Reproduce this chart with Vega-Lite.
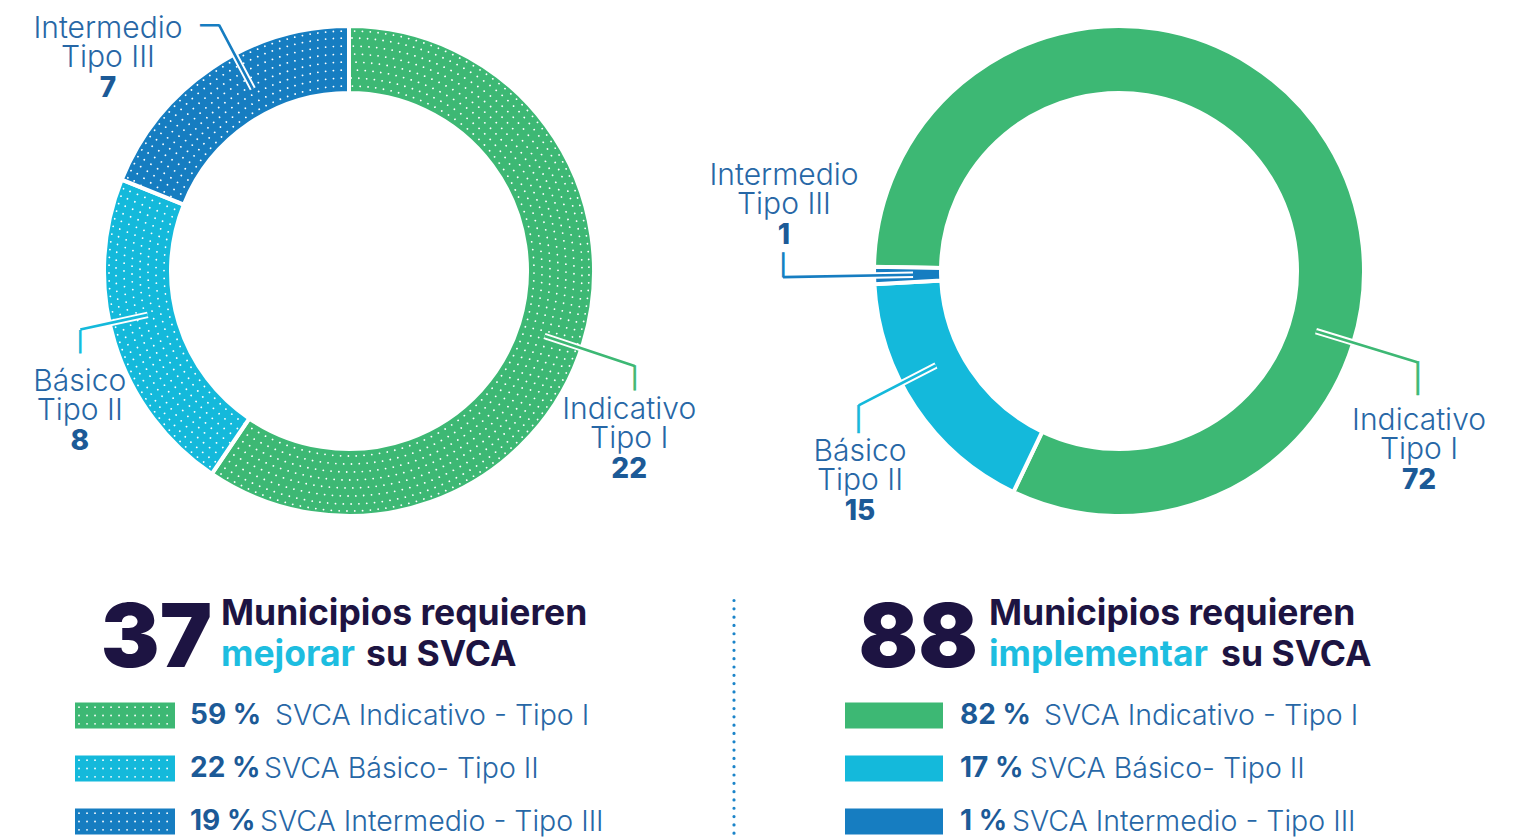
{
  "$schema": "https://vega.github.io/schema/vega-lite/v6.json",
  "padding": 0,
  "background": "#ffffff",
  "spacing": 54.5,
  "config": {"view": {"stroke": null}},
  "vconcat": [
    {
      "hconcat": [
        {
          "width": 698,
          "height": 542,
          "data": {"values": [
            {"tipo": "Indicativo", "etiqueta": "Indicativo\nTipo I", "n": 22, "orden": 1},
            {"tipo": "Básico", "etiqueta": "Básico\nTipo II", "n": 8, "orden": 2},
            {"tipo": "Intermedio", "etiqueta": "Intermedio\nTipo III", "n": 7, "orden": 3}
          ]},
          "layer": [
            {"mark": {"type": "arc", "innerRadius": 178, "outerRadius": 245, "stroke": "#ffffff", "strokeWidth": 4},
             "encoding": {
               "theta": {"field": "n", "type": "quantitative", "stack": true},
               "order": {"field": "orden", "type": "quantitative"},
               "color": {"field": "tipo", "type": "nominal", "scale": {"domain": ["Indicativo", "Básico", "Intermedio"], "range": ["#3db874", "#14b9db", "#167dc1"]}, "legend": null}}},
            {"encoding": {"theta": {"field": "n", "type": "quantitative", "stack": true}, "order": {"field": "orden", "type": "quantitative"}},
             "layer": [
               {"mark": {"type": "arc", "innerRadius": 0, "outerRadius": 185, "filled": false, "stroke": "#ffffff", "strokeWidth": 1.8, "strokeCap": "round", "strokeDash": [0.01, 7.8]}},
               {"mark": {"type": "arc", "innerRadius": 0, "outerRadius": 193, "filled": false, "stroke": "#ffffff", "strokeWidth": 1.8, "strokeCap": "round", "strokeDash": [0.01, 7.8]}},
               {"mark": {"type": "arc", "innerRadius": 0, "outerRadius": 201, "filled": false, "stroke": "#ffffff", "strokeWidth": 1.8, "strokeCap": "round", "strokeDash": [0.01, 7.8]}},
               {"mark": {"type": "arc", "innerRadius": 0, "outerRadius": 209, "filled": false, "stroke": "#ffffff", "strokeWidth": 1.8, "strokeCap": "round", "strokeDash": [0.01, 7.8]}},
               {"mark": {"type": "arc", "innerRadius": 0, "outerRadius": 217, "filled": false, "stroke": "#ffffff", "strokeWidth": 1.8, "strokeCap": "round", "strokeDash": [0.01, 7.8]}},
               {"mark": {"type": "arc", "innerRadius": 0, "outerRadius": 225, "filled": false, "stroke": "#ffffff", "strokeWidth": 1.8, "strokeCap": "round", "strokeDash": [0.01, 7.8]}},
               {"mark": {"type": "arc", "innerRadius": 0, "outerRadius": 233, "filled": false, "stroke": "#ffffff", "strokeWidth": 1.8, "strokeCap": "round", "strokeDash": [0.01, 7.8]}},
               {"mark": {"type": "arc", "innerRadius": 0, "outerRadius": 240, "filled": false, "stroke": "#ffffff", "strokeWidth": 1.8, "strokeCap": "round", "strokeDash": [0.01, 7.8]}}
             ]},

            {"transform": [{"stack": "n", "groupby": [], "sort": [{"field": "orden", "order": "ascending"}], "as": ["t0", "t1"]}, {"filter": "datum.tipo === 'Indicativo'"}],
             "encoding": {"theta": {"field": "t0", "type": "quantitative", "stack": null}},
             "layer": [
               {"mark": {"type": "arc", "innerRadius": 206, "outerRadius": 301, "thetaOffset": 1.892, "theta2Offset": 1.892, "filled": false, "stroke": "#ffffff", "strokeWidth": 6.5, "strokeCap": "round"}, "encoding": {"theta2": {"field": "t0"}}},
               {"mark": {"type": "arc", "innerRadius": 206, "outerRadius": 301, "thetaOffset": 1.892, "theta2Offset": 1.892, "filled": false, "stroke": "#3db874", "strokeWidth": 2.6, "strokeCap": "round"}, "encoding": {"theta2": {"field": "t0"}}},
               {"mark": {"type": "text", "radius": 211.5, "align": "center", "baseline": "alphabetic", "font": "DejaVu Sans Mono", "fontSize": 20.6, "color": "#3db874", "stroke": "#3db874", "strokeWidth": 0.9, "dx": 285.6, "dy": 325.6, "text": "│"}},
               {"mark": {"type": "text", "radius": 211.5, "align": "center", "baseline": "alphabetic", "lineBreak": "\n", "lineHeight": 29.5, "font": "Inter", "fontWeight": 300, "fontSize": 30, "color": "#2767a6", "dx": 280.2, "dy": 359.0}, "encoding": {"text": {"field": "etiqueta", "type": "nominal"}}},
               {"mark": {"type": "text", "radius": 211.5, "align": "center", "baseline": "alphabetic", "font": "Inter", "fontWeight": 800, "fontSize": 28, "color": "#1c5a97", "dx": 280.2, "dy": 418.0}, "encoding": {"text": {"field": "n", "type": "quantitative"}}}
             ]},
            {"transform": [{"stack": "n", "groupby": [], "sort": [{"field": "orden", "order": "ascending"}], "as": ["t0", "t1"]}, {"filter": "datum.tipo === 'Básico'"}],
             "encoding": {"theta": {"field": "t0", "type": "quantitative", "stack": null}},
             "layer": [
               {"mark": {"type": "arc", "innerRadius": 206, "outerRadius": 275, "thetaOffset": 0.7618, "theta2Offset": 0.7618, "filled": false, "stroke": "#ffffff", "strokeWidth": 6.5, "strokeCap": "round"}, "encoding": {"theta2": {"field": "t0"}}},
               {"mark": {"type": "arc", "innerRadius": 206, "outerRadius": 275, "thetaOffset": 0.7618, "theta2Offset": 0.7618, "filled": false, "stroke": "#14b9db", "strokeWidth": 2.6, "strokeCap": "round"}, "encoding": {"theta2": {"field": "t0"}}},
               {"mark": {"type": "text", "radius": 211.5, "align": "center", "baseline": "alphabetic", "font": "DejaVu Sans Mono", "fontSize": 18.9, "color": "#14b9db", "stroke": "#14b9db", "strokeWidth": 0.9, "dx": -150.3, "dy": -98.7, "text": "│"}},
               {"mark": {"type": "text", "radius": 211.5, "align": "center", "baseline": "alphabetic", "lineBreak": "\n", "lineHeight": 29.5, "font": "Inter", "fontWeight": 300, "fontSize": 30, "color": "#2767a6", "dx": -150.8, "dy": -55.7}, "encoding": {"text": {"field": "etiqueta", "type": "nominal"}}},
               {"mark": {"type": "text", "radius": 211.5, "align": "center", "baseline": "alphabetic", "font": "Inter", "fontWeight": 800, "fontSize": 28, "color": "#1c5a97", "dx": -150.8, "dy": 3.3}, "encoding": {"text": {"field": "n", "type": "quantitative"}}}
             ]},
            {"transform": [{"stack": "n", "groupby": [], "sort": [{"field": "orden", "order": "ascending"}], "as": ["t0", "t1"]}, {"filter": "datum.tipo === 'Intermedio'"}],
             "encoding": {"theta": {"field": "t0", "type": "quantitative", "stack": null}},
             "layer": [
               {"mark": {"type": "arc", "innerRadius": 206, "outerRadius": 278, "thetaOffset": 0.7027, "theta2Offset": 0.7027, "filled": false, "stroke": "#ffffff", "strokeWidth": 6.5, "strokeCap": "round"}, "encoding": {"theta2": {"field": "t0"}}},
               {"mark": {"type": "arc", "innerRadius": 206, "outerRadius": 278, "thetaOffset": 0.7027, "theta2Offset": 0.7027, "filled": false, "stroke": "#167dc1", "strokeWidth": 2.6, "strokeCap": "round"}, "encoding": {"theta2": {"field": "t0"}}},
               {"mark": {"type": "text", "radius": 211.5, "align": "right", "baseline": "alphabetic", "font": "DejaVu Sans Mono", "fontSize": 31.6, "color": "#167dc1", "dx": 66.3, "dy": -156.6, "text": "─"}},
               {"mark": {"type": "text", "radius": 211.5, "align": "center", "baseline": "alphabetic", "lineBreak": "\n", "lineHeight": 29.5, "font": "Inter", "fontWeight": 300, "fontSize": 30, "color": "#2767a6", "dx": -44.8, "dy": -154.2}, "encoding": {"text": {"field": "etiqueta", "type": "nominal"}}},
               {"mark": {"type": "text", "radius": 211.5, "align": "center", "baseline": "alphabetic", "font": "Inter", "fontWeight": 800, "fontSize": 28, "color": "#1c5a97", "dx": -44.8, "dy": -95.2}, "encoding": {"text": {"field": "n", "type": "quantitative"}}}
             ]}
          ]
        },
        {
          "width": 698,
          "height": 542,
          "data": {"values": [
            {"tipo": "Indicativo", "etiqueta": "Indicativo\nTipo I", "n": 72, "orden": 1},
            {"tipo": "Básico", "etiqueta": "Básico\nTipo II", "n": 15, "orden": 2},
            {"tipo": "Intermedio", "etiqueta": "Intermedio\nTipo III", "n": 1, "orden": 3}
          ]},
          "layer": [
            {"mark": {"type": "arc", "innerRadius": 178, "outerRadius": 245, "stroke": "#ffffff", "strokeWidth": 4},
             "encoding": {
               "theta": {"field": "n", "type": "quantitative", "stack": true, "scale": {"range": [4.7298, 11.0130]}},
               "order": {"field": "orden", "type": "quantitative"},
               "color": {"field": "tipo", "type": "nominal", "scale": {"domain": ["Indicativo", "Básico", "Intermedio"], "range": ["#3db874", "#14b9db", "#167dc1"]}, "legend": null}}},

            {"transform": [{"stack": "n", "groupby": [], "sort": [{"field": "orden", "order": "ascending"}], "as": ["t0", "t1"]}, {"filter": "datum.tipo === 'Indicativo'"}],
             "encoding": {"theta": {"field": "t0", "type": "quantitative", "stack": null}},
             "layer": [
               {"mark": {"type": "arc", "innerRadius": 206, "outerRadius": 312, "thetaOffset": 3.4208, "theta2Offset": 3.4208, "filled": false, "stroke": "#ffffff", "strokeWidth": 6.5, "strokeCap": "round"}, "encoding": {"theta2": {"field": "t0"}}},
               {"mark": {"type": "arc", "innerRadius": 206, "outerRadius": 312, "thetaOffset": 3.4208, "theta2Offset": 3.4208, "filled": false, "stroke": "#3db874", "strokeWidth": 2.6, "strokeCap": "round"}, "encoding": {"theta2": {"field": "t0"}}},
               {"mark": {"type": "text", "radius": 211.5, "align": "center", "baseline": "alphabetic", "font": "DejaVu Sans Mono", "fontSize": 28.4, "color": "#3db874", "stroke": "#3db874", "strokeWidth": 0.5, "dx": 509.9, "dy": 121.0, "text": "│"}},
               {"mark": {"type": "text", "radius": 211.5, "align": "center", "baseline": "alphabetic", "lineBreak": "\n", "lineHeight": 29.5, "font": "Inter", "fontWeight": 300, "fontSize": 30, "color": "#2767a6", "dx": 511.5, "dy": 162.2}, "encoding": {"text": {"field": "etiqueta", "type": "nominal"}}},
               {"mark": {"type": "text", "radius": 211.5, "align": "center", "baseline": "alphabetic", "font": "Inter", "fontWeight": 800, "fontSize": 28, "color": "#1c5a97", "dx": 511.5, "dy": 221.2}, "encoding": {"text": {"field": "n", "type": "quantitative"}}}
             ]},
            {"transform": [{"stack": "n", "groupby": [], "sort": [{"field": "orden", "order": "ascending"}], "as": ["t0", "t1"]}, {"filter": "datum.tipo === 'Básico'"}],
             "encoding": {"theta": {"field": "t0", "type": "quantitative", "stack": null}},
             "layer": [
               {"mark": {"type": "arc", "innerRadius": 206, "outerRadius": 293, "thetaOffset": 0.6484, "theta2Offset": 0.6484, "filled": false, "stroke": "#ffffff", "strokeWidth": 6.5, "strokeCap": "round"}, "encoding": {"theta2": {"field": "t0"}}},
               {"mark": {"type": "arc", "innerRadius": 206, "outerRadius": 293, "thetaOffset": 0.6484, "theta2Offset": 0.6484, "filled": false, "stroke": "#14b9db", "strokeWidth": 2.6, "strokeCap": "round"}, "encoding": {"theta2": {"field": "t0"}}},
               {"mark": {"type": "text", "radius": 211.5, "align": "center", "baseline": "alphabetic", "font": "DejaVu Sans Mono", "fontSize": 23.2, "color": "#14b9db", "stroke": "#14b9db", "strokeWidth": 0.8, "dx": -169.2, "dy": -35.3, "text": "│"}},
               {"mark": {"type": "text", "radius": 211.5, "align": "center", "baseline": "alphabetic", "lineBreak": "\n", "lineHeight": 29.5, "font": "Inter", "fontWeight": 300, "fontSize": 30, "color": "#2767a6", "dx": -167.8, "dy": -1.3}, "encoding": {"text": {"field": "etiqueta", "type": "nominal"}}},
               {"mark": {"type": "text", "radius": 211.5, "align": "center", "baseline": "alphabetic", "font": "Inter", "fontWeight": 800, "fontSize": 28, "color": "#1c5a97", "dx": -167.8, "dy": 57.7}, "encoding": {"text": {"field": "n", "type": "quantitative"}}}
             ]},
            {"transform": [{"stack": "n", "groupby": [], "sort": [{"field": "orden", "order": "ascending"}], "as": ["t0", "t1"]}, {"filter": "datum.tipo === 'Intermedio'"}],
             "encoding": {"theta": {"field": "t0", "type": "quantitative", "stack": null}},
             "layer": [
               {"mark": {"type": "arc", "innerRadius": 206, "outerRadius": 336, "thetaOffset": 0.0356, "theta2Offset": 0.0356, "filled": false, "stroke": "#ffffff", "strokeWidth": 6.5, "strokeCap": "round"}, "encoding": {"theta2": {"field": "t0"}}},
               {"mark": {"type": "arc", "innerRadius": 206, "outerRadius": 336, "thetaOffset": 0.0356, "theta2Offset": 0.0356, "filled": false, "stroke": "#167dc1", "strokeWidth": 2.6, "strokeCap": "round"}, "encoding": {"theta2": {"field": "t0"}}},
               {"mark": {"type": "text", "radius": 211.5, "align": "center", "baseline": "alphabetic", "font": "DejaVu Sans Mono", "fontSize": 20.6, "color": "#167dc1", "stroke": "#167dc1", "strokeWidth": 0.9, "dx": -124.7, "dy": -10.3, "text": "│"}},
               {"mark": {"type": "text", "radius": 211.5, "align": "center", "baseline": "alphabetic", "lineBreak": "\n", "lineHeight": 29.5, "font": "Inter", "fontWeight": 300, "fontSize": 30, "color": "#2767a6", "dx": -123.8, "dy": -97.9}, "encoding": {"text": {"field": "etiqueta", "type": "nominal"}}},
               {"mark": {"type": "text", "radius": 211.5, "align": "center", "baseline": "alphabetic", "font": "Inter", "fontWeight": 800, "fontSize": 28, "color": "#1c5a97", "dx": -123.8, "dy": -38.9}, "encoding": {"text": {"field": "n", "type": "quantitative"}}}
             ]}
          ]
        }
      ],
      "spacing": 72,
      "bounds": "flush",
      "resolve": {"scale": {"theta": "independent"}}
    },
    {
      "hconcat": [
        {
          "width": 734,
          "height": 240,
          "data": {"values": [
            {"tipo": "Indicativo", "pct": "59 %", "nombre": "SVCA Indicativo - Tipo I"},
            {"tipo": "Básico", "pct": "22 %", "nombre": "SVCA Básico- Tipo II"},
            {"tipo": "Intermedio", "pct": "19 %", "nombre": "SVCA Intermedio - Tipo III"}
          ]},
          "layer": [
            {"data": {"values": [{"separador": "linea"}]},
             "mark": {"type": "rule", "color": "#1b84c9", "strokeWidth": 3.2, "strokeCap": "round", "strokeDash": [0.01, 8.3]},
             "encoding": {"x": {"value": "width"}, "y": {"value": 2}, "y2": {"value": "height"}}},
            {"data": {"values": [{"total": 37, "linea1": "Municipios requieren", "verbo": "mejorar", "linea2": "su SVCA"}]},
             "layer": [
               {"mark": {"type": "text", "align": "right", "baseline": "alphabetic", "font": "Inter", "fontWeight": 900, "fontSize": 88, "color": "#1d1442"},
                "encoding": {"text": {"field": "total", "type": "quantitative"}, "x": {"value": 212}, "y": {"value": 68}}},
               {"mark": {"type": "text", "align": "left", "baseline": "alphabetic", "font": "Inter", "fontWeight": 700, "fontSize": 35.5, "color": "#1d1442"},
                "encoding": {"text": {"field": "linea1", "type": "nominal"}, "x": {"value": 221}, "y": {"value": 26}}},
               {"mark": {"type": "text", "align": "left", "baseline": "alphabetic", "font": "Inter", "fontWeight": 700, "fontSize": 35.5, "color": "#1dbde0"},
                "encoding": {"text": {"field": "verbo", "type": "nominal"}, "x": {"value": 221}, "y": {"value": 67}}},
               {"mark": {"type": "text", "align": "left", "baseline": "alphabetic", "font": "Inter", "fontWeight": 700, "fontSize": 35.5, "color": "#1d1442"},
                "encoding": {"text": {"field": "linea2", "type": "nominal"}, "x": {"value": 366}, "y": {"value": 67}}}
             ]},
            {"mark": {"type": "bar"},
             "encoding": {
               "y": {"field": "tipo", "type": "nominal", "scale": {"domain": ["Indicativo", "Básico", "Intermedio"], "range": [90.5, 249.5], "paddingInner": 0.51, "paddingOuter": 0.255}, "axis": null},
               "x": {"value": 75}, "x2": {"value": 175},
               "color": {"field": "tipo", "type": "nominal", "scale": {"domain": ["Indicativo", "Básico", "Intermedio"], "range": ["#3db874", "#14b9db", "#167dc1"]}, "legend": null}}},
            {"mark": {"type": "rule", "stroke": "#ffffff", "strokeWidth": 1.8, "strokeCap": "round", "strokeDash": [0.01, 8]},
             "encoding": {"y": {"field": "tipo", "type": "nominal", "bandPosition": 0.18}, "x": {"value": 79}, "x2": {"value": 173}}},
            {"mark": {"type": "rule", "stroke": "#ffffff", "strokeWidth": 1.8, "strokeCap": "round", "strokeDash": [0.01, 8]},
             "encoding": {"y": {"field": "tipo", "type": "nominal", "bandPosition": 0.5}, "x": {"value": 79}, "x2": {"value": 173}}},
            {"mark": {"type": "rule", "stroke": "#ffffff", "strokeWidth": 1.8, "strokeCap": "round", "strokeDash": [0.01, 8]},
             "encoding": {"y": {"field": "tipo", "type": "nominal", "bandPosition": 0.82}, "x": {"value": 79}, "x2": {"value": 173}}},
            {"mark": {"type": "text", "align": "left", "baseline": "middle", "font": "Inter", "fontWeight": 700, "fontSize": 28, "color": "#1c5a97"},
             "encoding": {"y": {"field": "tipo", "type": "nominal"}, "x": {"value": 190}, "text": {"field": "pct", "type": "nominal"}}},
            {"transform": [{"filter": "datum.tipo === 'Indicativo'"}],
             "mark": {"type": "text", "align": "left", "baseline": "middle", "font": "Inter", "fontWeight": 300, "fontSize": 28.5, "color": "#2767a6"},
             "encoding": {"y": {"field": "tipo", "type": "nominal"}, "x": {"value": 275}, "text": {"field": "nombre", "type": "nominal"}}},
            {"transform": [{"filter": "datum.tipo === 'Básico'"}],
             "mark": {"type": "text", "align": "left", "baseline": "middle", "font": "Inter", "fontWeight": 300, "fontSize": 28.5, "color": "#2767a6"},
             "encoding": {"y": {"field": "tipo", "type": "nominal"}, "x": {"value": 264}, "text": {"field": "nombre", "type": "nominal"}}},
            {"transform": [{"filter": "datum.tipo === 'Intermedio'"}],
             "mark": {"type": "text", "align": "left", "baseline": "middle", "font": "Inter", "fontWeight": 300, "fontSize": 28.5, "color": "#2767a6"},
             "encoding": {"y": {"field": "tipo", "type": "nominal"}, "x": {"value": 260}, "text": {"field": "nombre", "type": "nominal"}}}
          ]
        },
        {
          "width": 698,
          "height": 240,
          "data": {"values": [
            {"tipo": "Indicativo", "pct": "82 %", "nombre": "SVCA Indicativo - Tipo I"},
            {"tipo": "Básico", "pct": "17 %", "nombre": "SVCA Básico- Tipo II"},
            {"tipo": "Intermedio", "pct": "1 %", "nombre": "SVCA Intermedio - Tipo III"}
          ]},
          "layer": [
            {"data": {"values": [{"total": 88, "linea1": "Municipios requieren", "verbo": "implementar", "linea2": "su SVCA"}]},
             "layer": [
               {"mark": {"type": "text", "align": "right", "baseline": "alphabetic", "font": "Inter", "fontWeight": 900, "fontSize": 88, "color": "#1d1442"},
                "encoding": {"text": {"field": "total", "type": "quantitative"}, "x": {"value": 208}, "y": {"value": 68}}},
               {"mark": {"type": "text", "align": "left", "baseline": "alphabetic", "font": "Inter", "fontWeight": 700, "fontSize": 35.5, "color": "#1d1442"},
                "encoding": {"text": {"field": "linea1", "type": "nominal"}, "x": {"value": 219}, "y": {"value": 26}}},
               {"mark": {"type": "text", "align": "left", "baseline": "alphabetic", "font": "Inter", "fontWeight": 700, "fontSize": 35.5, "color": "#1dbde0"},
                "encoding": {"text": {"field": "verbo", "type": "nominal"}, "x": {"value": 219}, "y": {"value": 67}}},
               {"mark": {"type": "text", "align": "left", "baseline": "alphabetic", "font": "Inter", "fontWeight": 700, "fontSize": 35.5, "color": "#1d1442"},
                "encoding": {"text": {"field": "linea2", "type": "nominal"}, "x": {"value": 451}, "y": {"value": 67}}}
             ]},
            {"mark": {"type": "bar"},
             "encoding": {
               "y": {"field": "tipo", "type": "nominal", "scale": {"domain": ["Indicativo", "Básico", "Intermedio"], "range": [90.5, 249.5], "paddingInner": 0.51, "paddingOuter": 0.255}, "axis": null},
               "x": {"value": 75}, "x2": {"value": 173},
               "color": {"field": "tipo", "type": "nominal", "scale": {"domain": ["Indicativo", "Básico", "Intermedio"], "range": ["#3db874", "#14b9db", "#167dc1"]}, "legend": null}}},
            {"mark": {"type": "text", "align": "left", "baseline": "middle", "font": "Inter", "fontWeight": 700, "fontSize": 28, "color": "#1c5a97"},
             "encoding": {"y": {"field": "tipo", "type": "nominal"}, "x": {"value": 190}, "text": {"field": "pct", "type": "nominal"}}},
            {"transform": [{"filter": "datum.tipo === 'Indicativo'"}],
             "mark": {"type": "text", "align": "left", "baseline": "middle", "font": "Inter", "fontWeight": 300, "fontSize": 28.5, "color": "#2767a6"},
             "encoding": {"y": {"field": "tipo", "type": "nominal"}, "x": {"value": 274}, "text": {"field": "nombre", "type": "nominal"}}},
            {"transform": [{"filter": "datum.tipo === 'Básico'"}],
             "mark": {"type": "text", "align": "left", "baseline": "middle", "font": "Inter", "fontWeight": 300, "fontSize": 28.5, "color": "#2767a6"},
             "encoding": {"y": {"field": "tipo", "type": "nominal"}, "x": {"value": 260}, "text": {"field": "nombre", "type": "nominal"}}},
            {"transform": [{"filter": "datum.tipo === 'Intermedio'"}],
             "mark": {"type": "text", "align": "left", "baseline": "middle", "font": "Inter", "fontWeight": 300, "fontSize": 28.5, "color": "#2767a6"},
             "encoding": {"y": {"field": "tipo", "type": "nominal"}, "x": {"value": 242}, "text": {"field": "nombre", "type": "nominal"}}}
          ]
        }
      ],
      "spacing": 36,
      "bounds": "flush"
    }
  ]
}
